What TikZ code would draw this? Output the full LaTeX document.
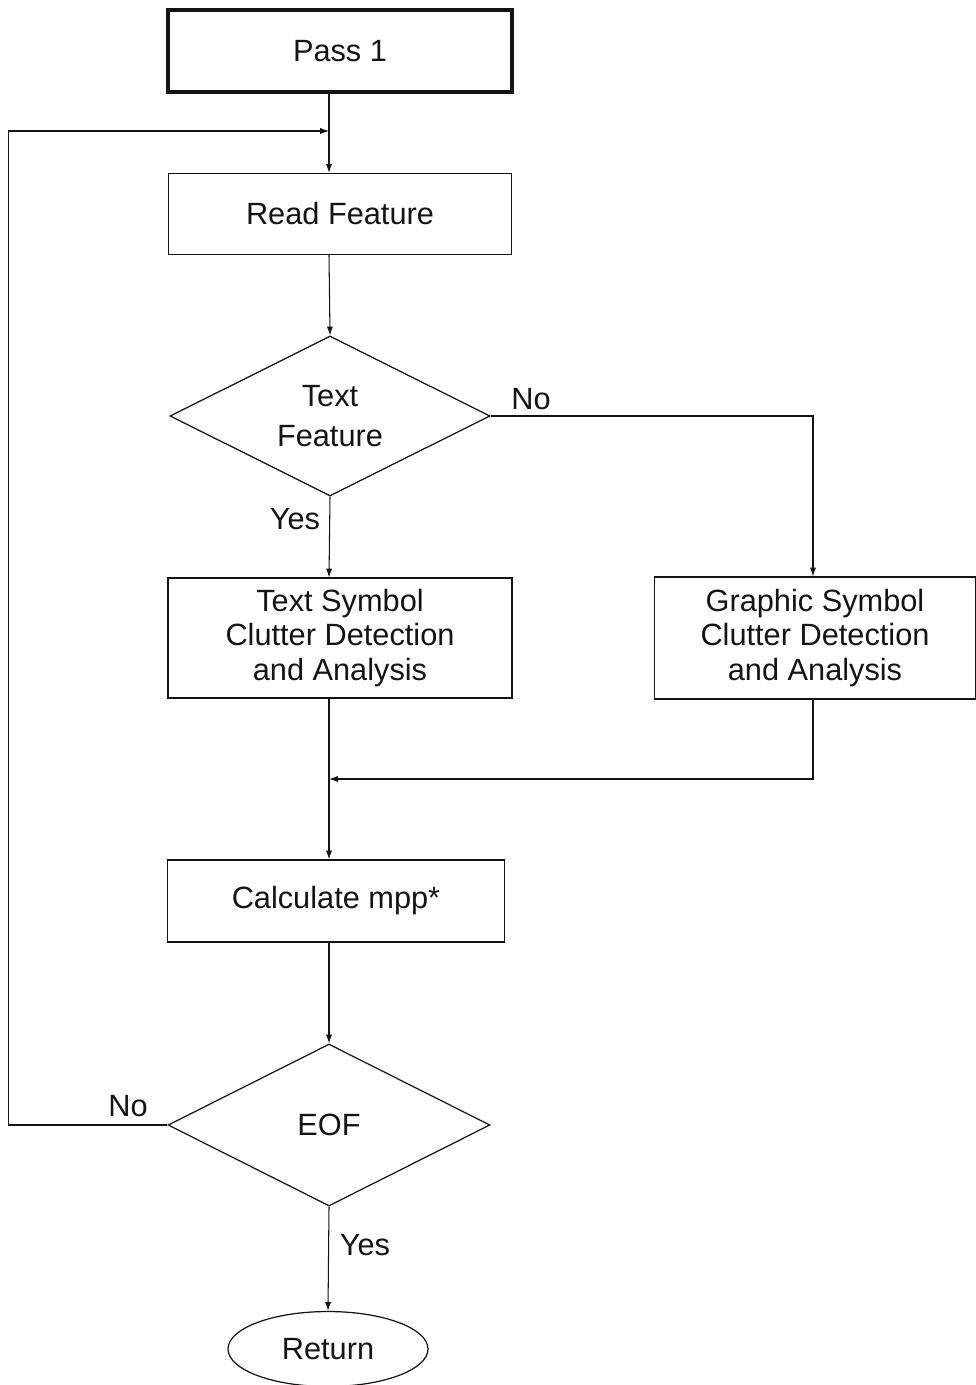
\documentclass[tikz,border=0pt]{standalone}
\usepackage{fontspec}
\setmainfont{Liberation Sans}
\usepackage{xcolor}
\usepackage{tikz}
\usetikzlibrary{shapes.geometric, arrows.meta, positioning, calc}
\definecolor{FlowInk}{RGB}{20, 20, 20}

\tikzset{
  flowtext/.style={font=\fontsize{17.5}{19.5}\selectfont, text=FlowInk, align=center},
  procbox/.style={flowtext, draw=FlowInk, line width=0.7pt, inner sep=0pt},
  startbox/.style={procbox, line width=2pt},
  decision/.style={flowtext, diamond, draw=FlowInk, line width=0.7pt, inner sep=0pt, shape aspect=2},
  terminal/.style={flowtext, ellipse, draw=FlowInk, line width=0.7pt, inner sep=0pt},
  flowline/.style={draw=FlowInk, line width=0.6pt},
  flowarrow/.style={flowline, -{Latex[length=5pt, width=3.5pt]}},
  branchlabel/.style={flowtext}
}

\begin{document}
\begin{tikzpicture}[x=0.02cm, y=-0.02cm]
    \useasboundingbox (0,0) rectangle (976,1385);

    % spine of the main column
    \coordinate (spine) at (329,0);
    \coordinate (loopin) at (329,131);
    \coordinate (merge) at (329,779);

    \node[startbox, minimum width=6.88cm, minimum height=1.64cm] (pass) at (340,51) {Pass 1};
    \node[procbox, minimum width=6.86cm, minimum height=1.62cm] (read) at (340,214) {Read Feature};
    \node[decision, minimum width=6.4cm, minimum height=3.2cm] (textq) at (330,416) {Text\\[3pt]Feature};
    \node[procbox, minimum width=6.88cm, minimum height=2.4cm] (textsym) at (340,638)
      {Text Symbol\\Clutter Detection\\and Analysis};
    \node[procbox, minimum width=6.42cm, minimum height=2.44cm] (graphic) at (815,638)
      {Graphic Symbol\\Clutter Detection\\and Analysis};
    \node[procbox, minimum width=6.74cm, minimum height=1.64cm] (calc) at (336,901) {Calculate mpp*};
    \node[decision, minimum width=6.44cm, minimum height=3.24cm] (eof) at (329,1125) {EOF};
    \node[terminal, minimum width=4cm, minimum height=1.5cm] (ret) at (328,1349) {Return};

    % branch labels
    \node[branchlabel] (textno) at (531,399) {No};
    \node[branchlabel] (textyes) at (295,519) {Yes};
    \node[branchlabel] (eofno) at (128,1106) {No};
    \node[branchlabel] (eofyes) at (365,1245) {Yes};

    % connectors
    \draw[flowline] (pass.south -| spine) -- (loopin);
    \draw[flowarrow] (loopin) -- (read.north -| spine);
    \draw[flowarrow] (read.south -| spine) -- (textq.north);
    \draw[flowarrow] (textq.east) -| ($(graphic.north)+(-2,0)$);
    \draw[flowarrow] (textq.south) -- (textsym.north -| spine);
    \draw[flowline] (textsym.south -| spine) -- (merge);
    \draw[flowarrow] ($(graphic.south)+(-2,0)$) |- (merge);
    \draw[flowarrow] (merge) -- (calc.north -| spine);
    \draw[flowarrow] (calc.south -| spine) -- (eof.north);
    \draw[flowarrow] (eof.south) -- (ret.north);
    \draw[flowarrow] (eof.west) -- ++(-159,0) |- (loopin);
\end{tikzpicture}
\end{document}
